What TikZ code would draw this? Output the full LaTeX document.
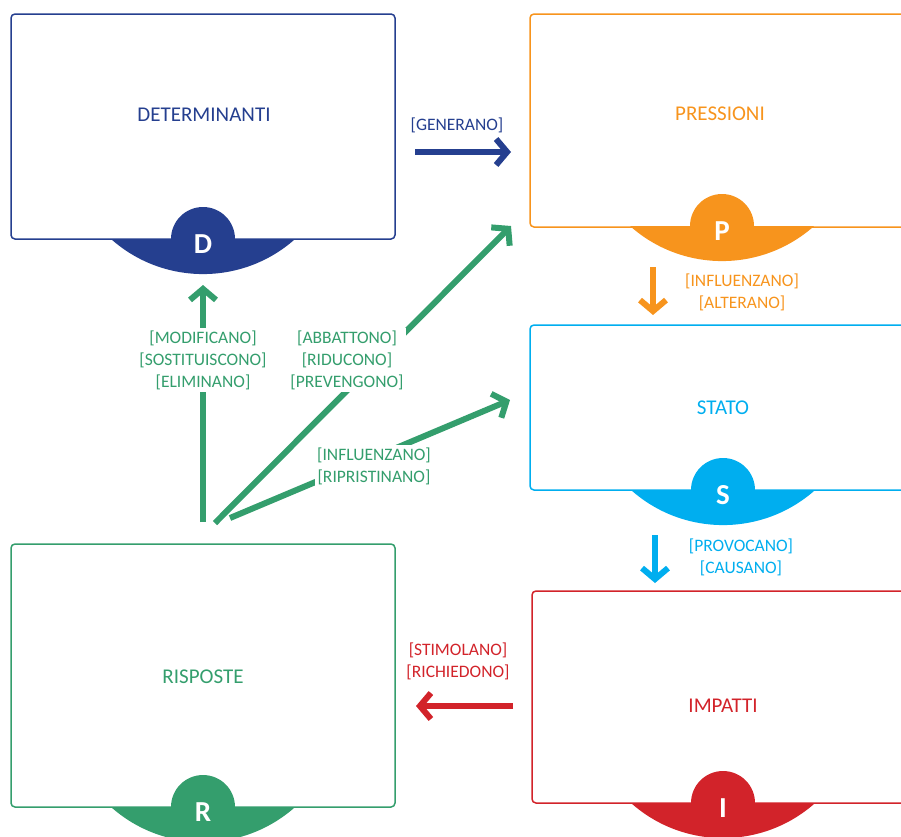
\documentclass[tikz,border=0pt]{standalone}
\usepackage{fontspec}
\setmainfont{Carlito}
\usetikzlibrary{arrows.meta}
\definecolor{cD}{HTML}{253F8F}
\definecolor{cP}{HTML}{F7941D}
\definecolor{cS}{HTML}{00AEEF}
\definecolor{cI}{HTML}{D2232A}
\definecolor{cR}{HTML}{349E6D}
\newcommand\mybadge[5]{%
  \fill[#3] (#1-92,#2) arc[start angle=131.7,end angle=48.3,radius=138.4] -- cycle;
  \fill[#3] (#1,#2) circle[radius=32];
  \node[badgeletter] (#5) at (#1,#2+5) {#4};
}
\begin{document}
\begin{tikzpicture}[x=1pt,y=-1pt,
  box/.style={draw=#1, line width=1.5pt, rounded corners=4pt, rectangle, inner sep=0pt},
  title/.style={text=#1, font=\fontsize{21}{25}\selectfont, inner sep=0pt},
  lbl/.style={text=#1, font=\fontsize{17.5}{22}\selectfont, align=center, inner sep=1pt},
  glbl/.style={lbl=cR, fill=white, inner sep=2pt},
  arr/.style={draw=#1, line width=6pt, -{Straight Barb[length=11pt,width=26pt]}},
  badgeletter/.style={text=white, font=\fontsize{29}{32}\selectfont\bfseries, inner sep=0pt}
]
\useasboundingbox (0,0) rectangle (901,836);
\clip (0,0) rectangle (901,836);

% boxes
\node[box=cD, minimum width=384pt, minimum height=225pt] (D) at (203,126.5) {};
\node[box=cP, minimum width=390pt, minimum height=213pt] (P) at (725,120.5) {};
\node[box=cS, minimum width=390pt, minimum height=165pt] (S) at (725,407.5) {};
\node[box=cI, minimum width=388pt, minimum height=212pt] (I) at (726,697) {};
\node[box=cR, minimum width=384pt, minimum height=263pt] (R) at (203,675.5) {};

% titles
\node[title=cD] (Dt) at (204,115) {DETERMINANTI};
\node[title=cP] (Pt) at (720,114) {PRESSIONI};
\node[title=cS] (St) at (723,408) {STATO};
\node[title=cI] (It) at (723,706) {IMPATTI};
\node[title=cR] (Rt) at (203,677) {RISPOSTE};

% badges
\mybadge{203}{239}{cD}{D}{Db}
\mybadge{722}{226}{cP}{P}{Pb}
\mybadge{723}{490}{cS}{S}{Sb}
\mybadge{723}{803}{cI}{I}{Ib}
\mybadge{203}{807}{cR}{R}{Rb}

% arrow end points
\coordinate (g1) at (415,152); \coordinate (g2) at (511,152);
\coordinate (p1) at (653,267); \coordinate (p2) at (653,315);
\coordinate (s1) at (655,535); \coordinate (s2) at (655,583);
\coordinate (i1) at (513,706); \coordinate (i2) at (416,706);
\coordinate (rd1) at (203,522); \coordinate (rd2) at (203,285);
\coordinate (rp1) at (215,523); \coordinate (rp2) at (511,226);
\coordinate (rs1) at (230,518); \coordinate (rs2) at (510,400);

\draw[arr=cD] (g1) -- (g2);
\draw[arr=cP] (p1) -- (p2);
\draw[arr=cS] (s1) -- (s2);
\draw[arr=cI] (i1) -- (i2);
\draw[arr=cR] (rd1) -- (rd2);
\draw[arr=cR] (rp1) -- (rp2);
\draw[arr=cR] (rs1) -- (rs2);

% labels
\node[lbl=cD] (gl) at (457,125) {[GENERANO]};
\node[lbl=cP] (pl) at (742,292) {[INFLUENZANO]\\{}[ALTERANO]};
\node[lbl=cS] (sl) at (741,557) {[PROVOCANO]\\{}[CAUSANO]};
\node[lbl=cI] (il) at (458,661) {[STIMOLANO]\\{}[RICHIEDONO]};
\node[glbl] (rdl) at (203,360) {[MODIFICANO]\\{}[SOSTITUISCONO]\\{}[ELIMINANO]};
\node[glbl] (rpl) at (347,360) {[ABBATTONO]\\{}[RIDUCONO]\\{}[PREVENGONO]};
\node[glbl] (rsl) at (374,466) {[INFLUENZANO]\\{}[RIPRISTINANO]};
\end{tikzpicture}
\end{document}
